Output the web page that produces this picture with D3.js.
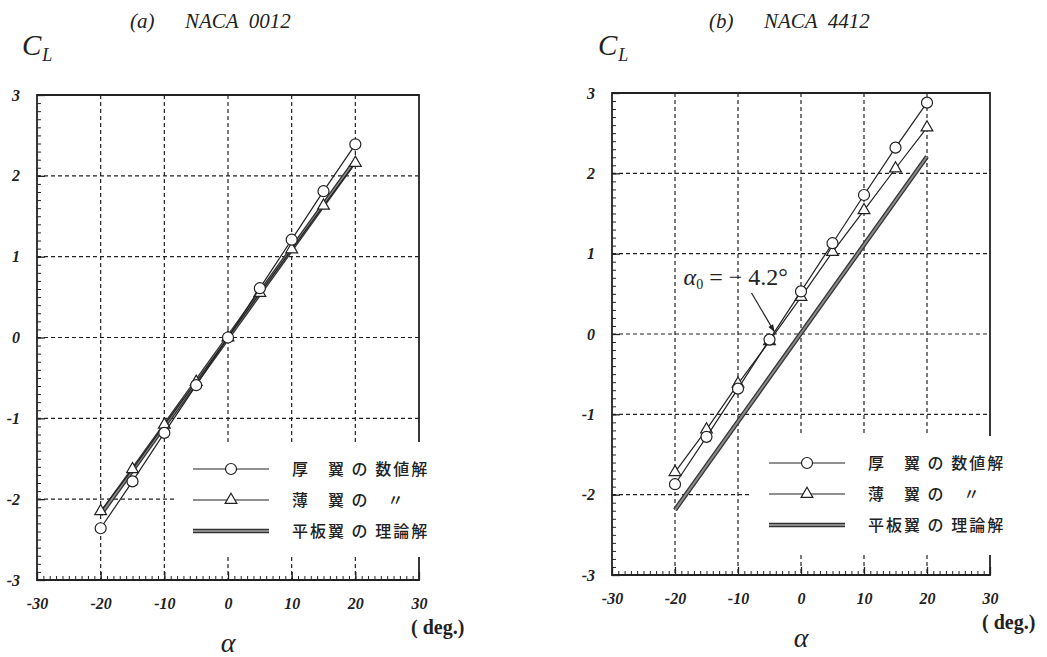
<!DOCTYPE html>
<html>
<head>
<meta charset="utf-8">
<script src="https://cdn.jsdelivr.net/npm/d3@7"></script>
<style>
  body { margin: 0; background: #fff; }
  svg { display: block; }
</style>
</head>
<body>
<div id="chart"></div>
<script>
// angle of attack (deg) for the computed points
const alphaDeg = [-20, -15, -10, -5, 0, 5, 10, 15, 20];

// (a) NACA 0012
const thick0012 = [-2.36, -1.78, -1.18, -0.59, 0.0, 0.61, 1.21, 1.81, 2.39];
const thin0012  = [-2.15, -1.63, -1.08, -0.55, 0.0, 0.55, 1.09, 1.63, 2.16];
// (b) NACA 4412
const thick4412 = [-1.87, -1.28, -0.68, -0.07, 0.53, 1.13, 1.73, 2.32, 2.88];
const thin4412  = [-1.72, -1.19, -0.62, -0.09, 0.46, 1.02, 1.54, 2.06, 2.57];

// flat plate theory, straight line between the end points
const plateAlpha = [-20, 20];
const plate0012 = [-2.19, 2.19];
const plate4412 = [-2.19, 2.21];

const xTicks = [-30, -20, -10, 0, 10, 20, 30];
const yTicks = [-3, -2, -1, 0, 1, 2, 3];
const titles = ["(a)", "(b)"];
const airfoils = ["NACA  0012", "NACA  4412"];
const legendLabels = ["厚　翼 の 数値解", "薄　翼 の　〃", "平板翼 の 理論解"];

const width = 1047, height = 657;

const svg = d3.select("#chart").append("svg")
    .attr("width", width)
    .attr("height", height);

//panel layout (pixel boxes of the two plots)
const panels = [
    { title: titles[0], name: airfoils[0], thick: thick0012, thin: thin0012, plate: plate0012,
      left: 37, right: 419, top: 95, bottom: 580, legTop: 442, legBottom: 557, legLeft: 174,
      titleX: 130, clX: 22, annotate: false },
    { title: titles[1], name: airfoils[1], thick: thick4412, thin: thin4412, plate: plate4412,
      left: 612, right: 990, top: 93, bottom: 575, legTop: 436, legBottom: 555, legLeft: 750,
      titleX: 709, clX: 598, annotate: true }
];

panels.forEach(drawPanel);

//italic bold serif tick labels, plain hyphen for minus
function styleLabels(a) {
    a.selectAll("text")
        .attr("font-family", "Liberation Serif, serif")
        .attr("font-style", "italic")
        .attr("font-weight", "bold")
        .attr("font-size", 16)
        .attr("fill", "#222");
}

function drawPanel(p) {
    const x = d3.scaleLinear().domain([-30, 30]).range([p.left, p.right]);
    const y = d3.scaleLinear().domain([-3, 3]).range([p.bottom, p.top]);
    const g = svg.append("g");

    //titles
    g.append("text")
        .attr("x", p.titleX).attr("y", 28)
        .attr("font-family", "Liberation Serif, serif")
        .attr("font-style", "italic").attr("font-size", 21)
        .attr("fill", "#222")
        .text(p.title);
    g.append("text")
        .attr("x", p.titleX + 55).attr("y", 28)
        .attr("font-family", "Liberation Serif, serif")
        .attr("font-style", "italic").attr("font-size", 21)
        .attr("fill", "#222")
        .attr("xml:space", "preserve")
        .text(p.name);

    //C_L
    const cl = g.append("text")
        .attr("x", p.clX).attr("y", 55)
        .attr("font-family", "Liberation Serif, serif")
        .attr("font-style", "italic").attr("font-size", 29)
        .attr("fill", "#222");
    cl.append("tspan").text("C");
    cl.append("tspan").attr("dy", 6).attr("dx", 1).attr("font-size", 18).text("L");

    //dashed grid
    g.append("g").selectAll("line")
        .data(xTicks.slice(1, -1))
        .join("line")
        .attr("x1", d => x(d)).attr("x2", d => x(d))
        .attr("y1", p.top).attr("y2", p.bottom)
        .attr("stroke", "#222").attr("stroke-width", 1.2)
        .attr("stroke-dasharray", "4,3");
    g.append("g").selectAll("line")
        .data(yTicks.slice(1, -1))
        .join("line")
        .attr("x1", p.left).attr("x2", p.right)
        .attr("y1", d => y(d)).attr("y2", d => y(d))
        .attr("stroke", "#222").attr("stroke-width", 1.2)
        .attr("stroke-dasharray", "4,3");

    //frame
    g.append("path")
        .attr("d", `M${p.left},${p.top}H${p.right}V${p.bottom}H${p.left}Z`)
        .attr("fill", "none")
        .attr("stroke", "#222")
        .attr("stroke-width", 1.8);

    //minor / major ticks and labels
    const yMinor = d3.range(-30, 31).map(d => d / 10);
    g.append("g")
        .attr("transform", `translate(${p.left},0)`)
        .call(d3.axisRight(y).tickValues(yMinor).tickSize(4).tickFormat(""))
        .call(a => a.select(".domain").remove())
        .selectAll("line").attr("stroke", "#222");
    g.append("g")
        .attr("transform", `translate(${p.left},0)`)
        .call(d3.axisLeft(y).tickValues(yTicks).tickSize(0).tickPadding(17).tickFormat(d => String(d)))
        .call(a => a.select(".domain").remove())
        .call(styleLabels);
    g.append("g")
        .attr("transform", `translate(${p.left},0)`)
        .call(d3.axisRight(y).tickValues(yTicks).tickSize(8).tickFormat(""))
        .call(a => a.select(".domain").remove())
        .selectAll("line").attr("stroke", "#222").attr("stroke-width", 1.3);

    const xMinor = d3.range(-30, 31);
    g.append("g")
        .attr("transform", `translate(0,${p.bottom})`)
        .call(d3.axisTop(x).tickValues(xMinor).tickSize(4).tickFormat(""))
        .call(a => a.select(".domain").remove())
        .selectAll("line").attr("stroke", "#222");
    g.append("g")
        .attr("transform", `translate(0,${p.bottom})`)
        .call(d3.axisTop(x).tickValues(xTicks).tickSize(8).tickFormat(""))
        .call(a => a.select(".domain").remove())
        .selectAll("line").attr("stroke", "#222").attr("stroke-width", 1.3);
    g.append("g")
        .attr("transform", `translate(0,${p.bottom})`)
        .call(d3.axisBottom(x).tickValues(xTicks).tickSize(0).tickPadding(18).tickFormat(d => String(d)))
        .call(a => a.select(".domain").remove())
        .call(styleLabels);

    //(deg.) and alpha
    g.append("text")
        .attr("x", p.right - 8).attr("y", p.bottom + 54)
        .attr("font-family", "Liberation Serif, serif")
        .attr("font-weight", "bold")
        .attr("font-size", 20).attr("fill", "#222")
        .attr("xml:space", "preserve")
        .text("( deg.)");
    g.append("text")
        .attr("x", x(0)).attr("y", p.bottom + 72)
        .attr("text-anchor", "middle")
        .attr("font-family", "Liberation Serif, serif")
        .attr("font-style", "italic")
        .attr("font-size", 28).attr("fill", "#222")
        .text("α");

    //white legend box hides the grid beneath it
    g.append("rect")
        .attr("x", p.legLeft).attr("y", p.legTop)
        .attr("width", p.right + 30 - p.legLeft)
        .attr("height", p.legBottom - p.legTop)
        .attr("fill", "#fff");

    //flat plate theory
    const plateData = plateAlpha.map((a, i) => [a, p.plate[i]]);
    const line = d3.line().x(d => x(d[0])).y(d => y(d[1]));
    g.append("path").attr("d", line(plateData))
        .attr("fill", "none").attr("stroke", "#333").attr("stroke-width", 4.5);
    g.append("path").attr("d", line(plateData))
        .attr("fill", "none").attr("stroke", "#8a8a8a").attr("stroke-width", 2);

    //thin airfoil numerical
    const thinData = alphaDeg.map((a, i) => [a, p.thin[i]]);
    g.append("path").attr("d", line(thinData))
        .attr("fill", "none").attr("stroke", "#222").attr("stroke-width", 1.2);
    const tri = d3.symbol().type(d3.symbolTriangle).size(60);
    g.append("g").selectAll("path")
        .data(thinData)
        .join("path")
        .attr("d", tri)
        .attr("transform", d => `translate(${x(d[0])},${y(d[1])})`)
        .attr("fill", "#fff").attr("stroke", "#222").attr("stroke-width", 1.2);

    //thick airfoil numerical
    const thickData = alphaDeg.map((a, i) => [a, p.thick[i]]);
    g.append("path").attr("d", line(thickData))
        .attr("fill", "none").attr("stroke", "#222").attr("stroke-width", 1.2);
    g.append("g").selectAll("circle")
        .data(thickData)
        .join("circle")
        .attr("cx", d => x(d[0])).attr("cy", d => y(d[1]))
        .attr("r", 5.5)
        .attr("fill", "#fff").attr("stroke", "#222").attr("stroke-width", 1.2);

    //legend
    const lx0 = p.legLeft + 19, lx1 = lx0 + 76;
    const ly = [p.legTop + 27, p.legTop + 58, p.legTop + 89];
    const leg = g.append("g");
    leg.append("line").attr("x1", lx0).attr("x2", lx1).attr("y1", ly[0]).attr("y2", ly[0])
        .attr("stroke", "#222").attr("stroke-width", 1.2);
    leg.append("circle").attr("cx", (lx0 + lx1) / 2).attr("cy", ly[0]).attr("r", 5.5)
        .attr("fill", "#fff").attr("stroke", "#222").attr("stroke-width", 1.2);
    leg.append("line").attr("x1", lx0).attr("x2", lx1).attr("y1", ly[1]).attr("y2", ly[1])
        .attr("stroke", "#222").attr("stroke-width", 1.2);
    leg.append("path").attr("d", tri)
        .attr("transform", `translate(${(lx0 + lx1) / 2},${ly[1]})`)
        .attr("fill", "#fff").attr("stroke", "#222").attr("stroke-width", 1.2);
    leg.append("line").attr("x1", lx0).attr("x2", lx1).attr("y1", ly[2]).attr("y2", ly[2])
        .attr("stroke", "#333").attr("stroke-width", 4.5);
    leg.append("line").attr("x1", lx0).attr("x2", lx1).attr("y1", ly[2]).attr("y2", ly[2])
        .attr("stroke", "#8a8a8a").attr("stroke-width", 2);
    leg.selectAll("text")
        .data(legendLabels)
        .join("text")
        .attr("x", lx1 + 23)
        .attr("y", (d, i) => ly[i])
        .attr("dy", "0.35em")
        .attr("font-family", "Noto Sans CJK JP, sans-serif")
        .attr("font-size", 16)
        .attr("font-weight", 500)
        .attr("letter-spacing", 2)
        .attr("fill", "#222")
        .attr("xml:space", "preserve")
        .text(d => d);

    //zero lift angle annotation
    if (p.annotate) {
        const alpha0 = -4.2;
        const tx = x(alpha0), ty = y(0);
        const sx = tx - 23, sy = ty - 41;
        g.append("line")
            .attr("x1", sx).attr("y1", sy).attr("x2", tx).attr("y2", ty - 2)
            .attr("stroke", "#222").attr("stroke-width", 1.2);
        const ang = Math.atan2(ty - 2 - sy, tx - sx);
        const ah = 8, aw = 0.35;
        g.append("path")
            .attr("d", `M${tx},${ty - 2}L${tx - ah * Math.cos(ang - aw)},${ty - 2 - ah * Math.sin(ang - aw)}L${tx - ah * Math.cos(ang + aw)},${ty - 2 - ah * Math.sin(ang + aw)}Z`)
            .attr("fill", "#222");
        const t = g.append("text")
            .attr("x", sx - 68).attr("y", sy - 8)
            .attr("font-family", "Liberation Serif, serif")
            .attr("font-size", 24).attr("fill", "#222")
            .attr("xml:space", "preserve");
        t.append("tspan").attr("font-style", "italic").text("α");
        t.append("tspan").attr("dy", 4).attr("font-size", 14).text("0");
        t.append("tspan").attr("dy", -4).text(" = − 4.2°");
    }
}
</script>
</body>
</html>
